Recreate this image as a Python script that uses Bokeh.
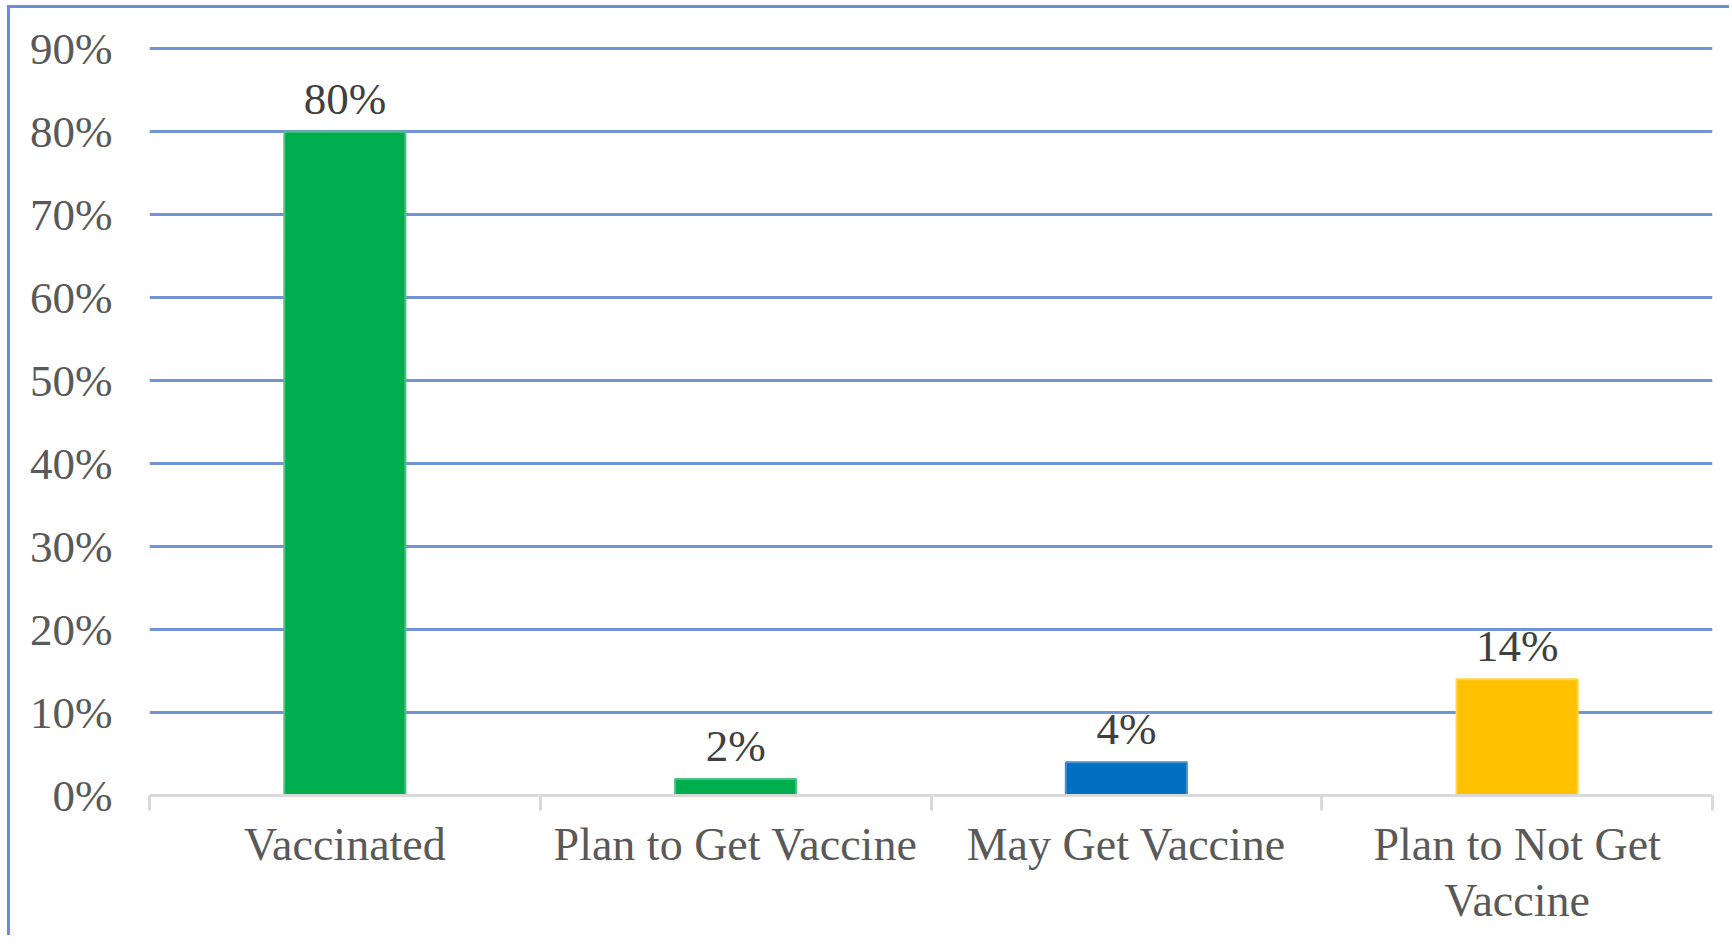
from bokeh.plotting import figure
from bokeh.models import Range1d, FixedTicker, PrintfTickFormatter, ColumnDataSource
from bokeh.core.properties import value
from bokeh.embed import file_html
from bokeh.resources import INLINE

categories = ["Vaccinated", "Plan to Get Vaccine", "May Get Vaccine", "Plan to Not Get\nVaccine"]
percents = [80, 2, 4, 14]
bar_colors = ["#00AD4E", "#00AD4E", "#0070C0", "#FFC000"]
edge_colors = ["#4CC47F", "#4CC47F", "#4A8FD0", "#FFD24D"]
y_ticks = [0, 10, 20, 30, 40, 50, 60, 70, 80, 90]

FONT = "Liberation Serif"
n = len(categories)
centers = [i + 0.5 for i in range(n)]

src = ColumnDataSource(dict(
    x=centers, top=percents, color=bar_colors, edge=edge_colors,
    label=[f"{v}%" for v in percents],
))

p = figure(width=1722, height=930, output_backend="svg", toolbar_location=None,
           x_range=Range1d(0, n), y_range=Range1d(0, 91),
           min_border_left=139, min_border_right=20, min_border_top=32, min_border_bottom=143)
p.outline_line_color = None
p.background_fill_color = "white"
p.border_fill_color = "white"
p.styles = {"margin-left": "7px", "margin-top": "5px",
            "border-left": "3px solid #6C8ED0", "border-top": "3px solid #6C8ED0"}

p.vbar(x="x", top="top", bottom=0, width=0.31, fill_color="color", line_color="edge",
       line_width=2, source=src)
p.text(x="x", y="top", text="label", source=src, text_align="center",
       text_baseline="alphabetic", y_offset=-33, text_font=value(FONT),
       text_font_size="45px", text_color="#404040")

# y axis
yax = p.yaxis[0]
yax.ticker = FixedTicker(ticks=y_ticks)
yax.formatter = PrintfTickFormatter(format="%d%%")
yax.axis_line_color = None
yax.major_tick_line_color = None
yax.minor_tick_line_color = None
yax.major_label_standoff = 31
yax.major_label_text_font = FONT
yax.major_label_text_font_size = "45px"
yax.major_label_text_color = "#595959"

# x axis
xax = p.xaxis[0]
xax.ticker = FixedTicker(ticks=centers, minor_ticks=list(range(n + 1)))
xax.major_label_overrides = {c: lab for c, lab in zip(centers, categories)}
xax.major_tick_line_color = None
xax.major_tick_out = 15
xax.major_tick_in = 0
xax.minor_tick_line_color = "#D9D9D9"
xax.minor_tick_line_width = 3
xax.minor_tick_out = 15
xax.minor_tick_in = 0
xax.axis_line_color = "#D9D9D9"
xax.axis_line_width = 3
xax.major_label_standoff = 8
xax.major_label_text_font = FONT
xax.major_label_text_font_size = "46px"
xax.major_label_text_line_height = 1.1
xax.major_label_text_color = "#595959"

p.xgrid.grid_line_color = None
p.ygrid.ticker = FixedTicker(ticks=y_ticks[1:])
p.ygrid.grid_line_color = "#7294D4"
p.ygrid.grid_line_width = 3

open("out.html", "w").write(file_html(p, INLINE))
